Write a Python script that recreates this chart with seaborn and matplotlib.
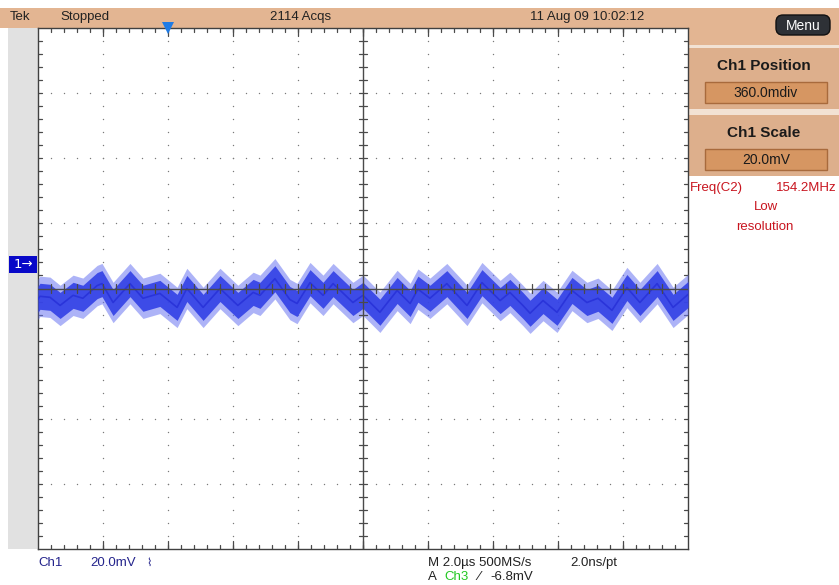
import matplotlib
matplotlib.use("Agg")
import matplotlib.pyplot as plt
from matplotlib.patches import Rectangle, FancyBboxPatch
import numpy as np
import pandas as pd
import seaborn as sns

# ---------------- data ----------------
time_us = [0.0, 0.06, 0.37, 0.68, 1.08, 1.38, 1.82, 1.97, 2.31, 2.83, 3.23, 3.75,
           4.28, 4.58, 5.08, 5.60, 6.15, 6.62, 6.83, 7.29, 7.75, 7.97, 8.37, 8.77,
           9.08, 9.69, 10.0, 10.52, 11.05, 11.45, 11.69, 12.06, 12.58, 13.2, 13.66,
           14.22, 14.52, 14.92, 15.14, 15.54, 15.97, 16.43, 16.89, 17.23, 17.66,
           18.12, 18.52, 19.05, 19.54, 19.97, 20.0]
ch1_mV = [-10.5, -9.6, -9.9, -12.4, -9.3, -10.2, -6.3, -5.7, -11.5, -5.7, -10.2, -8.7,
          -13.0, -7.2, -13.0, -7.2, -12.4, -8.4, -9.3, -4.2, -10.6, -11.8, -5.4, -9.3,
          -5.7, -11.5, -9.3, -14.5, -7.8, -11.8, -7.4, -10.2, -5.7, -12.4, -5.4,
          -10.9, -8.4, -12.4, -14.8, -10.9, -14.5, -7.8, -11.5, -10.2, -13.9,
          -6.9, -11.5, -5.7, -13.0, -9.3, -9.0]
noise_core_mV = 4.0      # half width of the dense part of the noisy trace
noise_spike_mV = 6.2     # half width of the sparse spikes

time_per_div_us = 2.0
volts_per_div_mV = 20.0
ch1_position_div = 0.36
n_hdiv, n_vdiv = 10, 8

header_texts = ["Tek", "Stopped", "2114 Acqs", "11 Aug 09 10:02:12"]
panel_titles = ["Ch1 Position", "Ch1 Scale"]
panel_values = ["360.0mdiv", "20.0mV"]

# ---------------- figure ----------------
sns.set_theme(style="white")
FONT = ["Liberation Sans", "DejaVu Sans"]
plt.rcParams["font.family"] = FONT

W, H = 839, 585
fig = plt.figure(figsize=(W / 100, H / 100), dpi=100)
fig.patch.set_facecolor("white")

# overlay axes in pixel coordinates for the instrument frame
bg = fig.add_axes([0, 0, 1, 1], zorder=0)
bg.set_xlim(0, W)
bg.set_ylim(H, 0)
bg.axis("off")

TAN = "#E3B592"
TAN_BOX = "#DDAF8C"
BTN = "#D69662"
BTN_EDGE = "#A86A3C"

# top bar
bg.add_patch(Rectangle((0, 8), 688, 20, facecolor=TAN, edgecolor="none"))
bg.add_patch(Rectangle((688, 8), W - 688, 37, facecolor=TAN, edgecolor="none"))
# left grey strip
bg.add_patch(Rectangle((8, 28), 30, 521, facecolor="#E1E1E1", edgecolor="none"))
# menu button
bg.add_patch(FancyBboxPatch((776, 15), 54, 20, boxstyle="round,pad=0,rounding_size=7",
                            facecolor="#2E3136", edgecolor="#111111", lw=1))
bg.text(803, 26, "Menu", color="white", fontsize=10, ha="center", va="center")

# right panel boxes
for i, (t, v) in enumerate(zip(panel_titles, panel_values)):
    y0 = 48 + i * 67
    bg.add_patch(Rectangle((689, y0), W - 689, 61, facecolor=TAN_BOX, edgecolor="none"))
    bg.text(764, y0 + 18, t, fontsize=11, fontweight="bold", color="#1A1A1A",
            ha="center", va="center")
    bg.add_patch(Rectangle((705, y0 + 34), 122, 21, facecolor=BTN, edgecolor=BTN_EDGE, lw=1))
    bg.text(766, y0 + 45, v, fontsize=10, color="#1A1A1A", ha="center", va="center")
bg.add_patch(Rectangle((689, 45), W - 689, 3, facecolor="#F2E2D4", edgecolor="none"))
bg.add_patch(Rectangle((689, 109), W - 689, 6, facecolor="#F2E2D4", edgecolor="none"))

RED = "#C8141E"
bg.text(690, 188, "Freq(C2)", color=RED, fontsize=9.5, ha="left", va="center")
bg.text(837, 188, "154.2MHz", color=RED, fontsize=9.5, ha="right", va="center")
bg.text(766, 207, "Low", color=RED, fontsize=9.5, ha="center", va="center")
bg.text(765, 227, "resolution", color=RED, fontsize=9.5, ha="center", va="center")

# header texts
hdr_x = [10, 60, 270, 530]
for x, t in zip(hdr_x, header_texts):
    bg.text(x, 17, t, fontsize=9.5, color="#222222", ha="left", va="center")

# channel 1 marker
bg.add_patch(Rectangle((9, 256), 28, 17, facecolor="#0808C8", edgecolor="none"))
bg.text(23, 264.5, "1\u2192", color="white", fontsize=9.5, ha="center", va="center",
        family=["DejaVu Sans"])

# bottom readouts
NAVY = "#24248C"
bg.text(38, 563, "Ch1", color=NAVY, fontsize=9.5, ha="left", va="center")
bg.text(90, 563, "20.0mV", color=NAVY, fontsize=9.5, ha="left", va="center")
bg.text(146, 563, "\u2307", color=NAVY, fontsize=8, ha="left", va="center",
        family=["DejaVu Sans"])
DARK = "#222222"
bg.text(428, 563, "M 2.0\u00b5s 500MS/s", color=DARK, fontsize=9.5, ha="left", va="center")
bg.text(570, 563, "2.0ns/pt", color=DARK, fontsize=9.5, ha="left", va="center")
bg.text(428, 577, "A", color=DARK, fontsize=9.5, ha="left", va="center")
bg.text(444, 577, "Ch3", color="#22C822", fontsize=9.5, ha="left", va="center")
bg.text(477, 577, "\u2044", color=DARK, fontsize=9.5, ha="left", va="center",
        family=["DejaVu Sans"])
bg.text(490, 577, "-6.8mV", color=DARK, fontsize=9.5, ha="left", va="center")

# ---------------- graticule axes ----------------
gl, gt, gr, gb = 38, 28, 688, 549
ax = fig.add_axes([gl / W, 1 - gb / H, (gr - gl) / W, (gb - gt) / H], zorder=2)
ax.set_facecolor("white")

x_span = n_hdiv * time_per_div_us
center_mV = -ch1_position_div * volts_per_div_mV
y_lo = center_mV - n_vdiv / 2 * volts_per_div_mV
y_hi = center_mV + n_vdiv / 2 * volts_per_div_mV
ax.set_xlim(0, x_span)
ax.set_ylim(y_lo, y_hi)

dx = time_per_div_us / 5
dy = volts_per_div_mV / 5
GRID = "#7A7A7A"
# dotted grid
for i in range(1, n_hdiv):
    if i == n_hdiv // 2:
        continue
    ys = y_lo + np.arange(1, n_vdiv * 5) * dy
    ax.scatter(np.full_like(ys, i * time_per_div_us), ys, s=1.0, color=GRID, lw=0, zorder=1)
for j in range(1, n_vdiv):
    if j == n_vdiv // 2:
        continue
    xs = np.arange(1, n_hdiv * 5) * dx
    ax.scatter(xs, np.full_like(xs, y_lo + j * volts_per_div_mV), s=1.0, color=GRID, lw=0, zorder=1)

LINEC = "#4A4A4A"
ax.axhline(center_mV, color=LINEC, lw=1.0, zorder=5)
ax.axvline(x_span / 2, color=LINEC, lw=1.0, zorder=5)
# minor ticks on center cross and frame
tx = np.arange(1, n_hdiv * 5) * dx
ty = y_lo + np.arange(1, n_vdiv * 5) * dy
tl_y = volts_per_div_mV * 0.065
tl_x = time_per_div_us * 0.065
for x in tx:
    ax.plot([x, x], [center_mV - tl_y, center_mV + tl_y], color=LINEC, lw=0.9, zorder=5)
    ax.plot([x, x], [y_hi, y_hi - tl_y], color=LINEC, lw=0.9, zorder=1)
    ax.plot([x, x], [y_lo, y_lo + tl_y], color=LINEC, lw=0.9, zorder=1)
for y in ty:
    ax.plot([x_span / 2 - tl_x, x_span / 2 + tl_x], [y, y], color=LINEC, lw=0.9, zorder=5)
    ax.plot([0, tl_x], [y, y], color=LINEC, lw=0.9, zorder=1)
    ax.plot([x_span - tl_x, x_span], [y, y], color=LINEC, lw=0.9, zorder=1)
for i in range(1, n_hdiv):
    x = i * time_per_div_us
    ax.plot([x, x], [y_hi, y_hi - 2 * tl_y], color=LINEC, lw=0.9, zorder=1)
    ax.plot([x, x], [y_lo, y_lo + 2 * tl_y], color=LINEC, lw=0.9, zorder=1)

# trace
df = pd.DataFrame({"t": time_us, "v": ch1_mV})
v = np.array(ch1_mV)
ax.fill_between(df["t"], v - noise_spike_mV, v + noise_spike_mV, color="#6A76F2",
                alpha=0.55, lw=0, zorder=3)
ax.fill_between(df["t"], v - noise_core_mV, v + noise_core_mV, color="#3442E6",
                alpha=0.92, lw=0, zorder=3)
sns.lineplot(data=df, x="t", y="v", ax=ax, color="#2A34DA", lw=1.2, zorder=4,
             estimator=None, sort=False)

# trigger position marker
ax.plot([2 * time_per_div_us], [y_hi], marker="v", color="#1E7BE6", markersize=8,
        clip_on=False, zorder=6, markeredgewidth=0)

ax.set_xlabel("")
ax.set_ylabel("")
ax.set_xticks([])
ax.set_yticks([])
for s in ax.spines.values():
    s.set_visible(True)
    s.set_color("#404040")
    s.set_linewidth(1.0)

fig.savefig("out.png", dpi=100)
